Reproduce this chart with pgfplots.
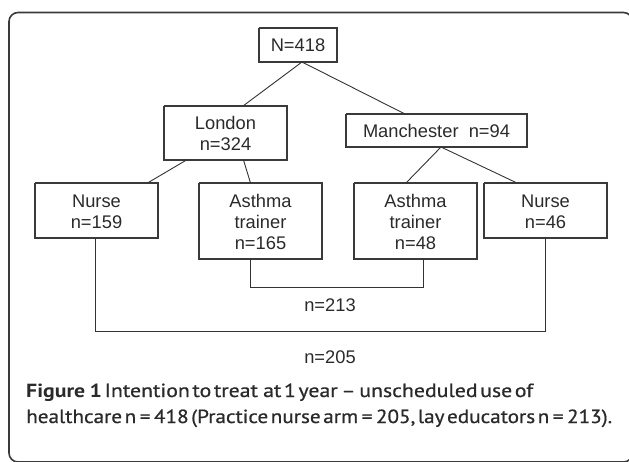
\documentclass[border=0pt]{standalone}
\usepackage{pgfplots}
\pgfplotsset{compat=1.18}
\usepackage{fontspec}
\setmainfont{Liberation Sans}
\newfontfamily\capfont{PT Sans}[WordSpace={0.45,0.1,0.1}, FakeBold=0.7]
\newfontfamily\capfontb{PT Sans Bold}[WordSpace={0.8,0.1,0.1}]
\definecolor{linec}{HTML}{333333}
\definecolor{boxc}{HTML}{3A3A3A}
\definecolor{txtc}{HTML}{2A2A2A}
\begin{document}
\begin{tikzpicture}
\useasboundingbox (0,0) rectangle (629pt,461pt);
\begin{axis}[
  scale only axis, width=629pt, height=461pt,
  xmin=0, xmax=629, ymin=0, ymax=461, y dir=reverse,
  hide axis, clip=false,
]
% outer frame
\draw[boxc, line width=1.6pt, rounded corners=9pt] (axis cs:9,12.5) rectangle (axis cs:632.5,462);
% boxes
\addplot[boxc, line width=1.1pt, mark=none] coordinates {(259,28) (337,28) (337,62) (259,62) (259,28)};
\addplot[boxc, line width=1.1pt, mark=none] coordinates {(164,106) (287,106) (287,160) (164,160) (164,106)};
\addplot[boxc, line width=1.1pt, mark=none] coordinates {(346,114) (527,114) (527,147) (346,147) (346,114)};
\addplot[boxc, line width=1.1pt, mark=none] coordinates {(35,183) (158,183) (158,238) (35,238) (35,183)};
\addplot[boxc, line width=1.1pt, mark=none] coordinates {(199,183) (322,183) (322,259) (199,259) (199,183)};
\addplot[boxc, line width=1.1pt, mark=none] coordinates {(354,183) (477,183) (477,259) (354,259) (354,183)};
\addplot[boxc, line width=1.1pt, mark=none] coordinates {(484,183) (607,183) (607,238) (484,238) (484,183)};
% connectors
\addplot[linec, line width=0.9pt, mark=none] coordinates {(302,62) (243,106)};
\addplot[linec, line width=0.9pt, mark=none] coordinates {(302,62) (405,114)};
\addplot[linec, line width=0.9pt, mark=none] coordinates {(186.5,160) (147.5,183)};
\addplot[linec, line width=0.9pt, mark=none] coordinates {(243.5,160) (250.5,183)};
\addplot[linec, line width=0.9pt, mark=none] coordinates {(441,147) (406,183)};
\addplot[linec, line width=0.9pt, mark=none] coordinates {(441,147) (517,183)};
\addplot[linec, line width=0.9pt, mark=none] coordinates {(250.5,259) (250.5,287) (423.5,287) (423.5,259)};
\addplot[linec, line width=0.9pt, mark=none] coordinates {(95.5,238) (95.5,331) (545.5,331) (545.5,238)};
% texts
\begin{scope}[every node/.style={text=txtc, font=\fontsize{18.3}{21}\selectfont, align=center, inner sep=0pt}]
\node at (axis cs:298,45) {N=418};
\node at (axis cs:225.5,133) {London\\n=324};
\node at (axis cs:436.5,130.5) {Manchester\ \ n=94};
\node at (axis cs:96.5,212) {Nurse\\n=159};
\node at (axis cs:260.5,222) {Asthma\\trainer\\n=165};
\node at (axis cs:415.5,222) {Asthma\\trainer\\n=48};
\node at (axis cs:545.5,212) {Nurse\\n=46};
\node at (axis cs:330,305) {n=213};
\node at (axis cs:330,357) {n=205};
\end{scope}
\node[anchor=base west, inner sep=0pt, text=txtc, font=\capfont\fontsize{19}{26}\selectfont] at (axis cs:26,397) {\resizebox{507pt}{\height}{{\capfontb Figure 1}\ Intention to treat\ \ at 1 year\,–\,unscheduled use of}};
\node[anchor=base west, inner sep=0pt, text=txtc, font=\capfont\fontsize{19}{26}\selectfont] at (axis cs:26,423) {\resizebox{586pt}{\height}{healthcare n\,=\,418 (Practice nurse arm\,=\,205, lay educators n\,=\,213).}};
\end{axis}
\end{tikzpicture}
\end{document}
